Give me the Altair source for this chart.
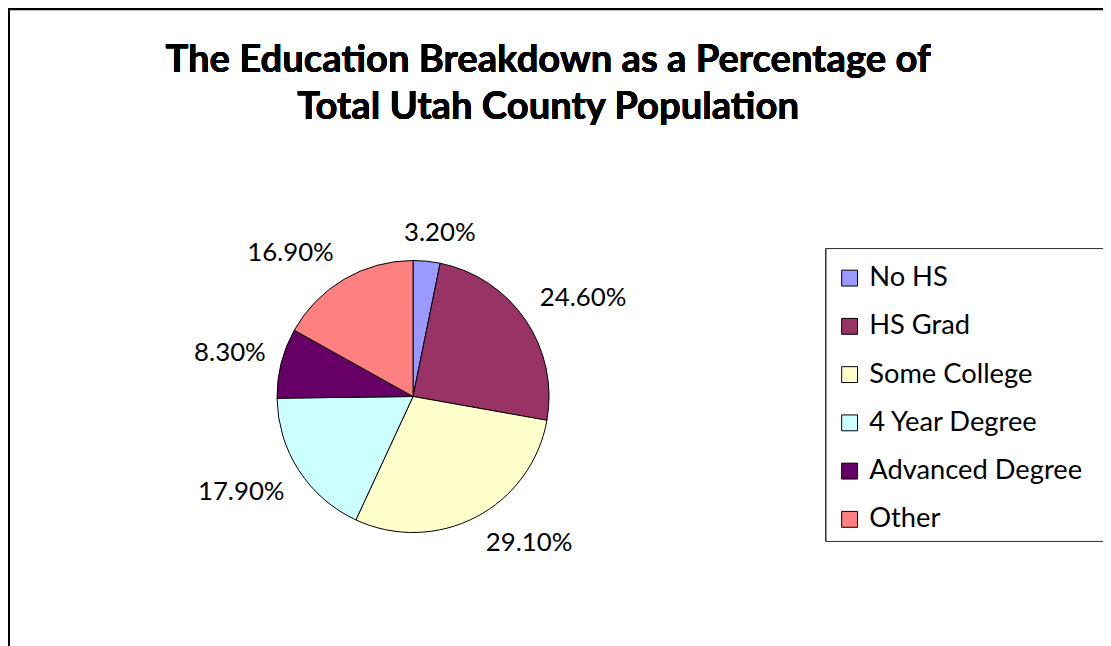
import altair as alt
import pandas as pd

categories = ["No HS", "HS Grad", "Some College", "4 Year Degree", "Advanced Degree", "Other"]
values = [3.2, 24.6, 29.1, 17.9, 8.3, 16.9]
colors = ["#9999FF", "#993366", "#FFFFCC", "#CCFFFF", "#660066", "#FF8080"]
title_lines = ["The Education Breakdown as a Percentage of", "Total Utah County Population"]

df = pd.DataFrame({"category": categories, "value": values, "idx": list(range(len(categories)))})

W, H = 1103, 638
CX, CY, R = 408, 389, 137
FONT = "Lato"

base = alt.Chart(df)

pie = base.mark_arc(radius=R, stroke="black", strokeWidth=1).encode(
    theta=alt.Theta("value:Q", stack=True),
    order=alt.Order("idx:Q"),
    color=alt.Color(
        "category:N",
        scale=alt.Scale(domain=categories, range=colors),
        legend=alt.Legend(
            title=None,
            orient="none",
            legendX=834,
            legendY=256,
            symbolType="square",
            symbolSize=256,
            symbolStrokeColor="black",
            symbolStrokeWidth=1,
            symbolOpacity=1,
            labelFont=FONT,
            labelFontSize=27.5,
            labelColor="black",
            labelOffset=6,
            rowPadding=19.6,
            labelLimit=400,
            padding=0,
        ),
    ),
    x=alt.value(CX),
    y=alt.value(CY),
)

labels = (
    base.transform_joinaggregate(total="sum(value)")
    .transform_window(cum="sum(value)", sort=[alt.SortField("idx")])
    .transform_calculate(
        a="(datum.cum - datum.value/2) / datum.total * 2 * PI",
        lab="format(datum.value/100, '.2%')",
    )
    .transform_calculate(
        lx=f"{CX} + sin(datum.a) * {R + 12} + clamp(3*sin(datum.a), -1, 1) * length(datum.lab) * 8",
        ly=f"{CY} - cos(datum.a) * {R + 14} - clamp(2*cos(datum.a), -1, 1) * 14",
    )
    .mark_text(font=FONT, fontSize=26, color="black", align="center", baseline="middle")
    .encode(
        x=alt.X("lx:Q", scale=None),
        y=alt.Y("ly:Q", scale=None),
        text="lab:N",
    )
)

frame = base.mark_rect(fill="white", stroke="black", strokeWidth=2).encode(
    x=alt.value(1), x2=alt.value(W + 60), y=alt.value(-1), y2=alt.value(H + 60)
)

box = base.mark_rect(fill="white", stroke="#333333", strokeWidth=1).encode(
    x=alt.value(824), x2=alt.value(W + 30), y=alt.value(240), y2=alt.value(535)
)

title = base.mark_text(
    font=FONT, fontSize=38.5, fontWeight="bold", color="black",
    align="center", baseline="alphabetic", lineHeight=47,
).encode(
    x=alt.value(544), y=alt.value(62), text=alt.value(title_lines)
)

chart = (
    alt.layer(frame, box, pie, labels, title)
    .properties(width=W, height=H, padding=0, autosize=alt.AutoSizeParams(type="none"))
    .configure_view(stroke=None)
)

chart.save("out.html", embed_options={"renderer": "svg", "actions": False})
